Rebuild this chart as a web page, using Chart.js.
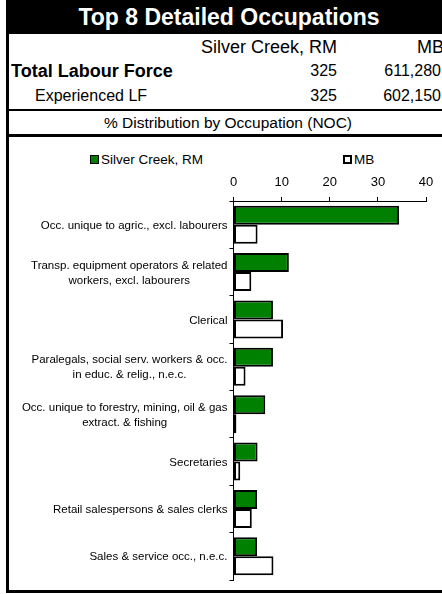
<!DOCTYPE html>
<html>
<head>
<meta charset="utf-8">
<script src="https://cdn.jsdelivr.net/npm/chart.js@4.4.0/dist/chart.umd.min.js"></script>
<style>
  html, body { margin: 0; padding: 0; background: #fff; overflow: hidden; }
  body { width: 442px; height: 594px; position: relative; font-family: "Liberation Sans", Arial, sans-serif; color: #000; }
  .abs { position: absolute; }
  .frame { left: 6px; top: 0; width: 446px; height: 590px; border-left: 3px solid #000; border-bottom: 3px solid #000; }
  .title { left: 6px; top: 0; width: 446px; height: 34px; background: #000; color: #fff; font-weight: bold; font-size: 23px; line-height: 34px; text-align: center; }
  .row { left: 9px; width: 433px; font-size: 16px; height: 24px; line-height: 24px; }
  .row span { position: absolute; white-space: nowrap; }
  .big { font-size: 18px; }
  .hline { left: 9px; width: 440px; background: #000; }
  .sub { left: 9px; width: 438px; top: 112px; height: 22px; line-height: 22px; font-size: 15.5px; text-align: center; }
  .leg { font-size: 13.5px; line-height: 16px; white-space: nowrap; }
  .box { width: 7px; height: 7px; border: 1px solid #000; display: inline-block; }
  #wrap { left: 9px; top: 137px; width: 433px; height: 453px; }
</style>
</head>
<body>
<div class="abs frame"></div>
<div class="abs title">Top 8 Detailed Occupations</div>

<div class="abs row" style="top:35px"><span class="big" style="right:105px">Silver Creek, RM</span><span class="big" style="right:-2px">MB</span></div>
<div class="abs row" style="top:59px"><span class="big" style="left:2px;font-weight:bold">Total Labour Force</span><span style="right:105px">325</span><span style="right:1px">611,280</span></div>
<div class="abs row" style="top:84px"><span style="left:26px">Experienced LF</span><span style="right:105px">325</span><span style="right:1px">602,150</span></div>
<div class="abs hline" style="top:109px;height:2px"></div>
<div class="abs sub">% Distribution by Occupation (NOC)</div>
<div class="abs hline" style="top:134px;height:3px"></div>

<div class="abs leg" id="leg0" style="left:90px;top:152px"></div>
<div class="abs leg" id="leg1" style="left:343px;top:152px"></div>

<div class="abs" id="wrap"><canvas id="chart"></canvas></div>

<script>
// categories (multi-line ones as arrays)
let categories = [
  "Occ. unique to agric., excl. labourers",
  ["Transp. equipment operators & related", "workers, excl. labourers"],
  "Clerical",
  ["Paralegals, social serv. workers & occ.", "in educ. & relig., n.e.c."],
  ["Occ. unique to forestry, mining, oil & gas", "extract. & fishing"],
  "Secretaries",
  "Retail salespersons & sales clerks",
  "Sales & service occ., n.e.c."
]
let seriesNames = ["Silver Creek, RM", "MB"]
let silverCreek = [34.4, 11.5, 8.2, 8.2, 6.6, 5.0, 4.9, 4.9]
let mb = [5.0, 3.7, 10.3, 2.5, 0.6, 1.4, 3.8, 8.3]
let xTicks = [0, 10, 20, 30, 40]

let colors = ["#008000", "#ffffff"]

// html legend
seriesNames.forEach(function(name, i) {
  let el = document.getElementById("leg" + i)
  let b = document.createElement("span")
  b.className = "box"
  b.style.background = colors[i]
  if (i == 1) { b.style.borderWidth = "2px"; b.style.width = "5px"; b.style.height = "5px" }
  el.appendChild(b)
  el.appendChild(document.createTextNode(name))
  b.style.marginRight = "2px"
})

// y labels: right-aligned block, lines centred inside the block
const catLabels = {
  id: "catLabels",
  afterDraw(chart) {
    let ctx = chart.ctx
    let ys = chart.scales.y
    ctx.save()
    ctx.font = "11.5px 'Liberation Sans', Arial"
    ctx.fillStyle = "#000"
    ctx.textAlign = "center"
    ctx.textBaseline = "middle"
    categories.forEach(function(c, i) {
      let lines = Array.isArray(c) ? c : [c]
      let w = Math.max.apply(null, lines.map(l => ctx.measureText(l).width))
      let right = ys.right - 6
      let y = ys.getPixelForValue(i)
      lines.forEach(function(l, j) {
        ctx.fillText(l, right - w / 2, y + (j - (lines.length - 1) / 2) * 15 + 1)
      })
    })
    ctx.restore()
  }
}

new Chart("chart", {
  type: "bar",
  data: {
    labels: categories,
    datasets: [
      { label: seriesNames[0], data: silverCreek, backgroundColor: colors[0], borderColor: "#000", borderWidth: 2, borderSkipped: false },
      { label: seriesNames[1], data: mb, backgroundColor: colors[1], borderColor: "#000", borderWidth: 2, borderSkipped: false }
    ]
  },
  options: {
    indexAxis: "y",
    responsive: true,
    maintainAspectRatio: false,
    animation: false,
    events: [],
    categoryPercentage: 0.8,
    barPercentage: 1.0,
    layout: { padding: { top: 0, right: 16, bottom: 10, left: 0 } },
    plugins: {
      legend: { display: false },
      tooltip: { enabled: false }
    },
    scales: {
      x: {
        position: "top",
        min: 0,
        max: 40,
        afterBuildTicks: function(scale) { scale.ticks = xTicks.map(v => ({ value: v })) },
        afterFit: function(scale) { scale.height = 64 },
        grid: { drawOnChartArea: false, drawTicks: true, tickLength: 4, color: "#000" },
        border: { color: "#000", width: 1 },
        ticks: { color: "#000", padding: 7, font: { family: "'Liberation Sans', Arial", size: 13 } }
      },
      y: {
        afterFit: function(scale) { scale.width = 224.5 },
        grid: { drawOnChartArea: false, drawTicks: true, tickLength: 4, color: "#000", offset: true },
        border: { color: "#000", width: 1 },
        ticks: { display: false }
      }
    }
  },
  plugins: [catLabels]
})
</script>
</body>
</html>
